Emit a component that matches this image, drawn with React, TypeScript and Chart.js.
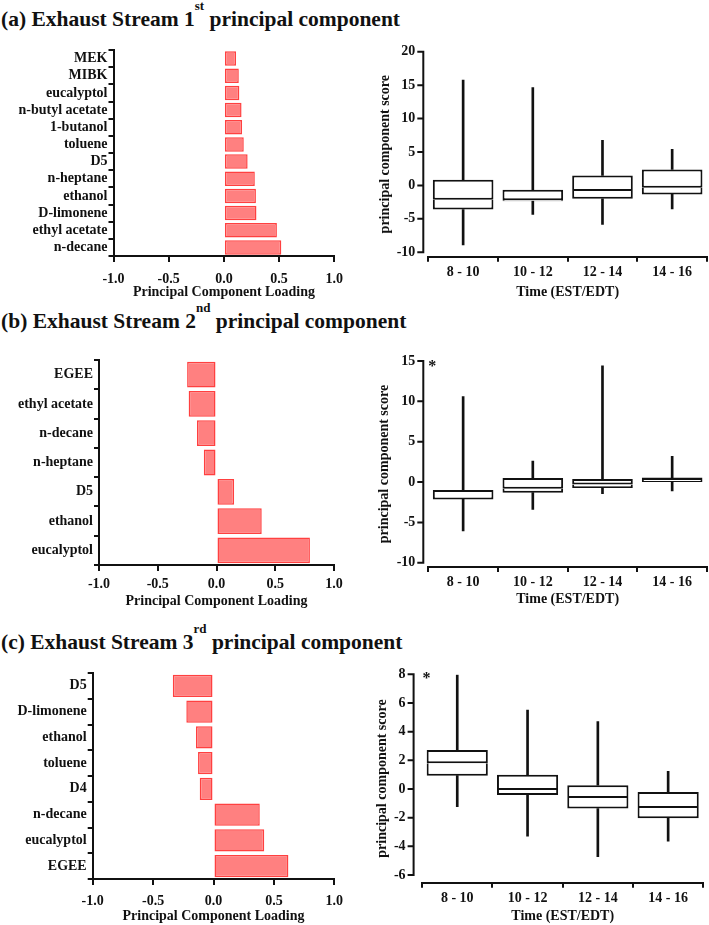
import { useEffect, useRef } from "react"
import { Chart, registerables, type Plugin } from "chart.js"

Chart.register(...registerables)

const FONT = "'Liberation Serif', 'Times New Roman', serif"
const INK = "#111"
const BAR_FILL = "#ff8080"
const BAR_EDGE = "#ff4040"

// (a) loadings, top to bottom
const loadingLabelsA = ["MEK", "MIBK", "eucalyptol", "n-butyl acetate", "1-butanol", "toluene", "D5", "n-heptane", "ethanol", "D-limonene", "ethyl acetate", "n-decane"]
const loadingValuesA = [0.11, 0.135, 0.14, 0.16, 0.165, 0.18, 0.215, 0.28, 0.29, 0.295, 0.48, 0.52]

// (b) loadings
const loadingLabelsB = ["EGEE", "ethyl acetate", "n-decane", "n-heptane", "D5", "ethanol", "eucalyptol"]
const loadingValuesB = [-0.25, -0.237, -0.166, -0.108, 0.15, 0.385, 0.795]

// (c) loadings
const loadingLabelsC = ["D5", "D-limonene", "ethanol", "toluene", "D4", "n-decane", "eucalyptol", "EGEE"]
const loadingValuesC = [-0.337, -0.225, -0.145, -0.128, -0.114, 0.383, 0.42, 0.62]

// time of day bins for the score box plots
const timeLabels = ["8 - 10", "10 - 12", "12 - 14", "14 - 16"]

const scoreMinA = [-8.9, -4.35, -5.85, -3.5]
const scoreQ1A = [-3.6, -2.35, -2.0, -1.35]
const scoreMedA = [-2.15, -2.2, -0.85, -0.35]
const scoreQ3A = [0.85, -0.65, 1.5, 2.4]
const scoreMaxA = [15.75, 14.65, 6.75, 5.4]

const scoreMinB = [-6.07, -3.4, -1.45, -1.1]
const scoreQ1B = [-2.15, -1.32, -0.75, 0.0]
const scoreMedB = [-1.24, -0.83, -0.3, 0.25]
const scoreQ3B = [-1.0, 0.5, 0.37, 0.55]
const scoreMaxB = [10.6, 2.6, 14.4, 3.2]

const scoreMinC = [-1.23, -3.3, -4.72, -3.65]
const scoreQ1C = [0.93, -0.42, -1.37, -2.05]
const scoreMedC = [1.79, -0.07, -0.63, -1.33]
const scoreQ3C = [2.72, 1.0, 0.26, -0.21]
const scoreMaxC = [7.95, 5.51, 4.7, 1.23]

type Frame = { left: number; top: number; width: number; height: number; l: number; t: number; r: number; b: number }

const tickFont = { family: FONT, size: 14, weight: "bold" as const }

function LoadingChart({ labels, values, frame, barPct, tickPad }: { labels: string[]; values: number[]; frame: Frame; barPct: number; tickPad: number }) {
  const ref = useRef<HTMLCanvasElement>(null)

  useEffect(() => {
    if (!ref.current) return
    const { left, top, width, height, l, t, r, b } = frame
    const chart = new Chart(ref.current, {
      type: "bar",
      data: {
        labels,
        datasets: [
          {
            data: values,
            backgroundColor: BAR_FILL,
            borderColor: BAR_EDGE,
            borderWidth: 1.5,
            borderSkipped: false,
            barPercentage: barPct,
            categoryPercentage: 1,
          },
        ],
      },
      options: {
        indexAxis: "y",
        animation: false,
        responsive: false,
        layout: { padding: { left: 0, top: t - top, right: left + width - r, bottom: 0 } },
        plugins: { legend: { display: false }, tooltip: { enabled: false } },
        scales: {
          x: {
            min: -1,
            max: 1,
            afterFit: (s: any) => {
              s.height = top + height - b
            },
            border: { color: INK, width: 2 },
            grid: { drawOnChartArea: false, color: INK, lineWidth: 2, tickLength: 6 },
            ticks: { stepSize: 0.5, color: INK, padding: tickPad, font: tickFont, callback: (v: any) => Number(v).toFixed(1) },
            title: { display: true, text: "Principal Component Loading", color: INK, font: tickFont, padding: 0 },
          },
          y: {
            afterFit: (s: any) => {
              s.width = l - left
            },
            border: { color: INK, width: 2 },
            grid: { offset: true, drawOnChartArea: false, color: INK, lineWidth: 2, tickLength: 5 },
            ticks: { color: INK, padding: 1, font: tickFont, autoSkip: false },
          },
        },
      },
    })
    return () => chart.destroy()
  }, [])

  return <canvas ref={ref} width={frame.width} height={frame.height} style={{ position: "absolute", left: frame.left, top: frame.top }} />
}

// Prism-style detached y axis: the line sits `gap` px left of the plot and
// stops at the lowest labelled tick; also draws the "*" mark
const scoreFrame: Plugin = {
  id: "scoreFrame",
  afterDraw(chart: any, _args: any, opts: any) {
    const { ctx, chartArea, scales } = chart
    const y = scales.y
    const x0 = chartArea.left - opts.gap
    const lowest = y.ticks[0].value
    ctx.save()
    ctx.strokeStyle = INK
    ctx.lineWidth = 2
    ctx.beginPath()
    ctx.moveTo(x0, y.getPixelForValue(y.max) - 1)
    ctx.lineTo(x0, y.getPixelForValue(lowest) + 1)
    for (const tk of y.ticks) {
      const py = y.getPixelForValue(tk.value)
      ctx.moveTo(x0 - 6, py)
      ctx.lineTo(x0, py)
    }
    ctx.stroke()
    if (opts.star) {
      ctx.fillStyle = INK
      ctx.font = `bold 16px ${FONT}`
      ctx.textAlign = "center"
      ctx.textBaseline = "middle"
      ctx.fillText("*", chartArea.left + opts.dx, chartArea.top + opts.dy)
    }
    ctx.restore()
  },
}

type ScoreProps = {
  mins: number[]
  q1s: number[]
  meds: number[]
  q3s: number[]
  maxs: number[]
  yMin: number
  yMax: number
  step: number
  star: boolean
  starDx: number
  starDy: number
  gap: number
  frame: Frame
}

const BOX_PCT = 0.87

function ScoreChart({ mins, q1s, meds, q3s, maxs, yMin, yMax, step, star, starDx, starDy, gap, frame }: ScoreProps) {
  const ref = useRef<HTMLCanvasElement>(null)

  useEffect(() => {
    if (!ref.current) return
    const { left, top, width, height, l, t, r, b } = frame
    const whisker = { backgroundColor: INK, barThickness: 2, grouped: false, order: 2 }
    const box = {
      backgroundColor: "#fff",
      borderColor: INK,
      borderSkipped: false,
      barPercentage: BOX_PCT,
      categoryPercentage: 1,
      grouped: false,
    }
    const chart = new Chart(ref.current, {
      type: "bar",
      data: {
        labels: timeLabels,
        datasets: [
          { ...whisker, data: mins.map((v, i) => [v, q1s[i]]) },
          { ...whisker, data: q3s.map((v, i) => [v, maxs[i]]) },
          // lower half of the box: open on top, the upper half draws the median
          { ...box, data: q1s.map((v, i) => [v, meds[i]]), borderWidth: { top: 0, right: 2, bottom: 2, left: 2 }, order: 1 },
          { ...box, data: meds.map((v, i) => [v, q3s[i]]), borderWidth: 2, order: 0 },
        ] as any,
      },
      options: {
        animation: false,
        responsive: false,
        layout: { padding: { left: 0, top: t - top, right: left + width - r, bottom: 0 } },
        plugins: {
          legend: { display: false },
          tooltip: { enabled: false },
          scoreFrame: { star, dx: starDx, dy: starDy, gap },
        } as any,
        scales: {
          x: {
            afterFit: (s: any) => {
              s.height = top + height - b
            },
            border: { color: INK, width: 2 },
            grid: { offset: true, drawOnChartArea: false, color: INK, lineWidth: 2, tickLength: 5 },
            ticks: { color: INK, padding: 2, font: tickFont },
            title: { display: true, text: "Time (EST/EDT)", color: INK, font: tickFont, padding: 0 },
          },
          y: {
            min: yMin,
            max: yMax,
            afterFit: (s: any) => {
              s.width = l - left
            },
            border: { display: false },
            grid: { display: false, drawOnChartArea: false, tickLength: 6 + gap },
            ticks: { stepSize: step, includeBounds: false, color: INK, padding: 2, font: tickFont },
            title: { display: true, text: "principal component score", color: INK, font: tickFont, padding: 0 },
          },
        },
      },
      plugins: [scoreFrame],
    })
    return () => chart.destroy()
  }, [])

  return <canvas ref={ref} width={frame.width} height={frame.height} style={{ position: "absolute", left: frame.left, top: frame.top }} />
}

function Title({ top, letter, num, sup }: { top: number; letter: string; num: string; sup: string }) {
  return (
    <div style={{ position: "absolute", left: 1, top, fontSize: 21.5, lineHeight: "21.5px", fontWeight: "bold", whiteSpace: "nowrap" }}>
      ({letter}) Exhaust Stream {num}
      <span style={{ fontSize: 13, position: "relative", top: -16 }}>{sup}</span> principal component
    </div>
  )
}

export default function App() {
  return (
    <div style={{ position: "absolute", left: 0, top: 0, width: 709, height: 925, overflow: "hidden", background: "#fff", fontFamily: FONT, color: INK }}>
      <Title top={8.7} letter="a" num="1" sup="st" />
      <Title top={310.7} letter="b" num="2" sup="nd" />
      <Title top={631.7} letter="c" num="3" sup="rd" />

      <LoadingChart
        labels={loadingLabelsA}
        values={loadingValuesA}
        barPct={0.84}
        tickPad={9}
        frame={{ left: 0, top: 36, width: 362, height: 265, l: 113.5, t: 50, r: 334.3, b: 256 }}
      />
      <ScoreChart
        mins={scoreMinA}
        q1s={scoreQ1A}
        meds={scoreMedA}
        q3s={scoreQ3A}
        maxs={scoreMaxA}
        yMin={-10.66}
        yMax={20}
        step={5}
        star={false}
        starDx={0}
        starDy={0}
        gap={5}
        frame={{ left: 377, top: 36, width: 332, height: 265, l: 428.3, t: 51.7, r: 707, b: 256.7 }}
      />

      <LoadingChart
        labels={loadingLabelsB}
        values={loadingValuesB}
        barPct={0.88}
        tickPad={5}
        frame={{ left: 0, top: 340, width: 362, height: 270, l: 99, t: 360, r: 334, b: 565 }}
      />
      <ScoreChart
        mins={scoreMinB}
        q1s={scoreQ1B}
        meds={scoreMedB}
        q3s={scoreQ3B}
        maxs={scoreMaxB}
        yMin={-10.53}
        yMax={15}
        step={5}
        star={true}
        starDx={4}
        starDy={6}
        gap={5}
        frame={{ left: 376, top: 340, width: 333, height: 268, l: 428.3, t: 361, r: 707, b: 567 }}
      />

      <LoadingChart
        labels={loadingLabelsC}
        values={loadingValuesC}
        barPct={0.87}
        tickPad={8}
        frame={{ left: 0, top: 655, width: 362, height: 270, l: 92.7, t: 673, r: 334.3, b: 879 }}
      />
      <ScoreChart
        mins={scoreMinC}
        q1s={scoreQ1C}
        meds={scoreMedC}
        q3s={scoreQ3C}
        maxs={scoreMaxC}
        yMin={-6.54}
        yMax={8}
        step={2}
        star={true}
        starDx={4.5}
        starDy={5}
        gap={8.5}
        frame={{ left: 373.6, top: 655, width: 335.4, height: 270, l: 421.7, t: 674.3, r: 703.3, b: 882.7 }}
      />
    </div>
  )
}
